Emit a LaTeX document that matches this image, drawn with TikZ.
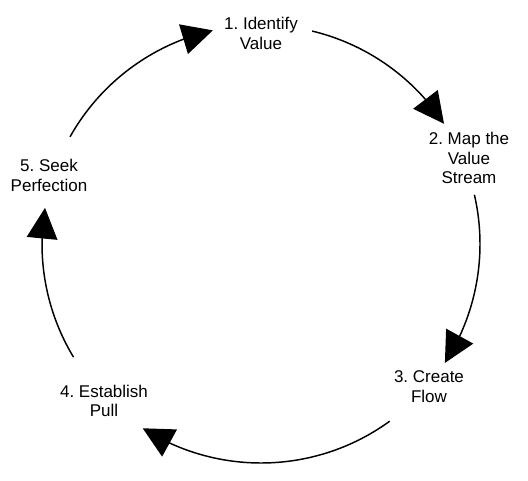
\documentclass[tikz,border=0pt]{standalone}
\usepackage{fontspec}
\setmainfont{Liberation Sans}
\usetikzlibrary{arrows.meta,bending}
\begin{document}
\frenchspacing
\begin{tikzpicture}[x=0.75pt,y=0.75pt,
  lbl/.style={align=center,inner sep=0pt,font=\fontsize{12.75}{14.55}\selectfont\frenchspacing},
  cyc/.style={line width=1.1pt,-{Triangle[length=23pt,width=23pt,flex]}}]
\useasboundingbox (0,0) rectangle (528,480);
\coordinate (C) at (261,236);
\node[lbl] (n1) at (261,444.2) {\strut 1. Identify\\\strut Value};
\node[lbl] (n2) at (469,319.5) {\strut 2. Map the\\\strut Value\\\strut Stream};
\node[lbl] (n3) at (429,91.2) {\strut 3. Create\\\strut Flow};
\node[lbl] (n4) at (104,76.9) {\strut 4. Establish\\\strut Pull};
\node[lbl] (n5) at (49,302.2) {\strut 5. Seek\\\strut Perfection};
\coordinate (s12) at ([shift={(76.5:164.25pt)}]C);
\coordinate (s23) at ([shift={(13:164.25pt)}]C);
\coordinate (s34) at ([shift={(-54:164.25pt)}]C);
\coordinate (s45) at ([shift={(-148.9:164.25pt)}]C);
\coordinate (s51) at ([shift={(150.7:164.25pt)}]C);
\draw[cyc] (s12) arc[start angle=76.5,end angle=33.3,radius=164.25pt];
\draw[cyc] (s23) arc[start angle=13,end angle=-32.9,radius=164.25pt];
\draw[cyc] (s34) arc[start angle=-54,end angle=-122.7,radius=164.25pt];
\draw[cyc] (s45) arc[start angle=-148.9,end angle=-189.5,radius=164.25pt];
\draw[cyc] (s51) arc[start angle=150.7,end angle=102.7,radius=164.25pt];
\end{tikzpicture}
\end{document}
